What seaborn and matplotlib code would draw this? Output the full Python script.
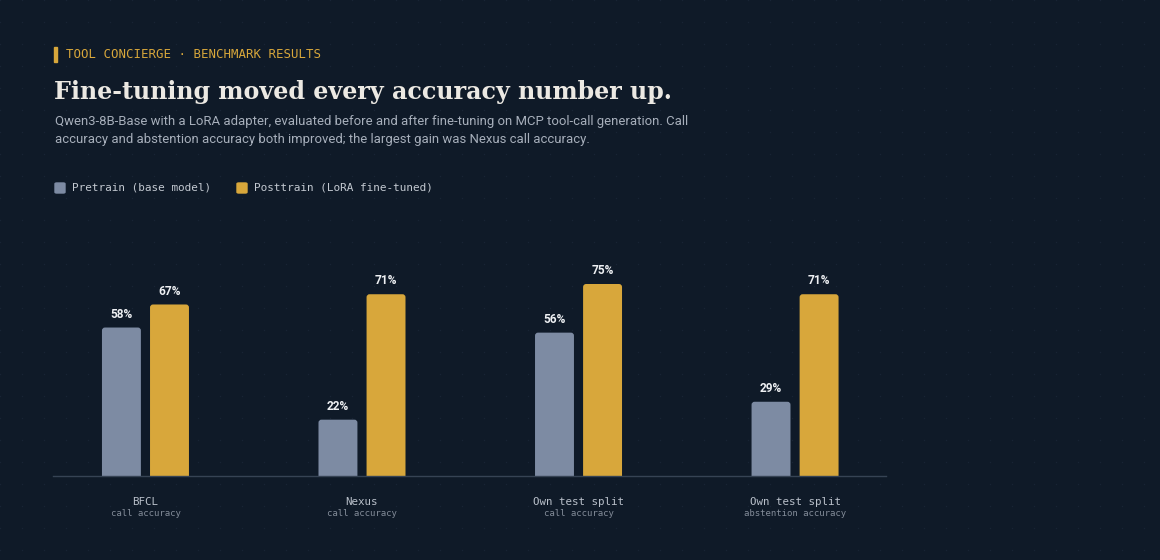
import numpy as np
import pandas as pd
import matplotlib
matplotlib.use("Agg")
import matplotlib.pyplot as plt
from matplotlib.patches import FancyBboxPatch
from matplotlib.transforms import blended_transform_factory
import seaborn as sns

# ---- data ----
benchmarks = ["BFCL", "Nexus", "Own test split", "Own test split "]
sublabels = ["call accuracy", "call accuracy", "call accuracy", "abstention accuracy"]
series_names = ["Pretrain (base model)", "Posttrain (LoRA fine-tuned)"]
pretrain = [58, 22, 56, 29]
posttrain = [67, 71, 75, 71]

BG = "#0f1a28"
C_PRE = "#7d8ba3"
C_POST = "#d8a73b"
MONO = "DejaVu Sans Mono"

df = pd.DataFrame({
    "benchmark": benchmarks * 2,
    "value": pretrain + posttrain,
    "model": [series_names[0]] * 4 + [series_names[1]] * 4,
})

sns.set_theme(style="dark")
plt.rcParams["font.family"] = ["DejaVu Sans"]

fig = plt.figure(figsize=(11.6, 5.6), dpi=100, facecolor=BG)

# faint dotted background grid
bg = fig.add_axes([0, 0, 1, 1], zorder=-10)
bg.set_xlim(0, 1160); bg.set_ylim(560, 0)
bg.set_facecolor(BG)
gx, gy = np.meshgrid(np.arange(0, 1160, 22), np.arange(0, 560, 22))
bg.scatter(gx.ravel(), gy.ravel(), s=1.0, color="#182435", linewidths=0)
bg.axis("off")

ax = fig.add_axes([53 / 1160, 84 / 560, 833 / 1160, 256 / 560])
ax.set_facecolor("none")
sns.barplot(data=df, x="benchmark", y="value", hue="model",
            palette=[C_PRE, C_POST], width=0.444, gap=0.19,
            saturation=1, ax=ax, legend=False)

ax.set_ylim(0, 100)
ax.set_xlim(-0.427, 3.42)

# value labels
for cont in ax.containers:
    ax.bar_label(cont, fmt="%.0f%%", padding=5, color="#eef0f3",
                 fontsize=8.6, fontweight="bold", family="Roboto")

# rounded top corners
px_x = 833 / (3.42 + 0.427)
px_y = 256 / 100
for p in list(ax.patches):
    x, y = p.get_x(), p.get_y()
    w, h = p.get_width(), p.get_height()
    r = 3 / px_x
    fb = FancyBboxPatch((x, y - 3), w, h + 3,
                        boxstyle=f"round,pad=0,rounding_size={r}",
                        mutation_aspect=(1 / px_y) / (1 / px_x),
                        facecolor=p.get_facecolor(), edgecolor="none",
                        clip_on=True, zorder=2)
    ax.add_patch(fb)
    p.set_visible(False)

ax.set_xlabel(""); ax.set_ylabel("")
ax.set_yticks([])
ax.set_xticks(range(4))
ax.set_xticklabels([b.strip() for b in benchmarks], family=MONO,
                   fontsize=7.8, color="#b9c0ca")
ax.tick_params(axis="x", length=0, pad=15)
for s in ["top", "right", "left"]:
    ax.spines[s].set_visible(False)
ax.spines["bottom"].set_color("#364354")
ax.spines["bottom"].set_linewidth(1)
ax.grid(False)

tr = blended_transform_factory(ax.transData, ax.transAxes)
for i, sl in enumerate(sublabels):
    ax.text(i, -0.145, sl, transform=tr, ha="center", va="center",
            family=MONO, fontsize=6.5, color="#838c99")

# ---- header text ----
def fx(px):
    return px / 1160
def fy(py):
    return 1 - py / 560

fig.patches.append(plt.Rectangle((fx(54.5), fy(62)), 2 / 1160, 15 / 560,
                                 transform=fig.transFigure, color=C_POST))
fig.text(fx(66), fy(55), "TOOL CONCIERGE · BENCHMARK RESULTS", family=MONO,
         fontsize=8.95, color=C_POST, va="center", ha="left")
fig.text(fx(54), fy(99), "Fine-tuning moved every accuracy number up.",
         family="DejaVu Serif", fontweight="bold", fontsize=17.1,
         color="#ece9e3", va="baseline", ha="left")
fig.text(fx(55), fy(121), "Qwen3-8B-Base with a LoRA adapter, evaluated before and after fine-tuning on MCP tool-call generation. Call",
         family="Roboto", fontsize=9.45, color="#a7afbb", va="center", ha="left")
fig.text(fx(55), fy(140), "accuracy and abstention accuracy both improved; the largest gain was Nexus call accuracy.",
         family="Roboto", fontsize=9.45, color="#a7afbb", va="center", ha="left")

# legend
for lx, name, col in [(55, series_names[0], C_PRE), (237, series_names[1], C_POST)]:
    fig.patches.append(FancyBboxPatch((fx(lx), fy(193)), 10 / 1160, 10 / 560,
                                      boxstyle="round,pad=0,rounding_size=0.0015",
                                      transform=fig.transFigure, color=col))
    fig.text(fx(lx + 17), fy(188), name, family=MONO, fontsize=7.95,
             color="#c3c9d1", va="center", ha="left")

fig.savefig("out.png", dpi=100, facecolor=BG)
